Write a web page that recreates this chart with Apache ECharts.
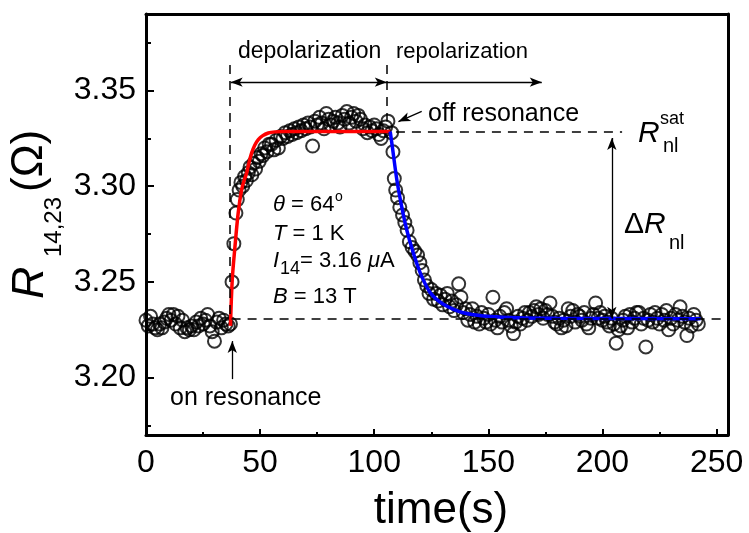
<!DOCTYPE html>
<html><head><meta charset="utf-8">
<script src="https://cdn.jsdelivr.net/npm/echarts@6/dist/echarts.min.js"></script>
<style>html,body{margin:0;padding:0;background:#fff}#c{width:749px;height:533px}</style>
</head><body><div id="c"></div><script>
// ---- data ----
const tBase = [0,1,2,3,4,5,6,7,8,9,10,11,12,13,14,15,16,17,18,19,20,21,22,23,24,25,26,27,28,29,30,31,32,33,34,35,36];
const rBase = [3.230,3.227,3.232,3.228,3.226,3.225,3.228,3.226,3.229,3.231,3.233,3.230,3.233,3.228,3.232,3.226,3.230,3.224,3.226,3.225,3.227,3.225,3.229,3.227,3.231,3.228,3.230,3.233,3.227,3.224,3.219,3.229,3.231,3.226,3.230,3.228,3.227];
const tRise = [37,37.7,38.5,39.4,40,40.8,41.6,42.4,43.2,44,44.8,45.6,46.4,47.2,48,48.8,49.6,50.4,51.2,52,53,54];
const rRise = [3.228,3.250,3.270,3.286,3.293,3.298,3.302,3.300,3.305,3.303,3.307,3.310,3.306,3.312,3.309,3.315,3.313,3.317,3.316,3.320,3.318,3.322];
const tPlat = [55,56,57,58,59,60,61,62,63,64,65,66,67,68,69,70,71,72,73,74,75,76,77,78,79,80,81,82,83,84,85,86,87,88,89,90,91,92,93,94,95,96,97,98,99,100,101,102,103,104,105,106];
const rPlat = [3.322,3.319,3.324,3.320,3.326,3.325,3.328,3.326,3.329,3.327,3.330,3.328,3.331,3.329,3.332,3.330,3.333,3.331,3.321,3.334,3.332,3.336,3.333,3.330,3.338,3.335,3.332,3.334,3.336,3.333,3.331,3.337,3.335,3.339,3.333,3.336,3.338,3.334,3.337,3.335,3.330,3.332,3.328,3.331,3.329,3.332,3.330,3.327,3.325,3.329,3.331,3.334];
const tFall = [107.6,108.2,108.8,109.4,110.2,111.2,112.4,113.4,114.4,115.4,116.6,117.8,119,120,121,122,123,124,125,126,127,128,129,130,131,132,133,134,135,136,137,138,139];
const rFall = [3.328,3.318,3.304,3.298,3.294,3.289,3.285,3.281,3.277,3.271,3.268,3.266,3.264,3.260,3.256,3.251,3.248,3.244,3.246,3.241,3.244,3.240,3.243,3.238,3.241,3.244,3.237,3.240,3.235,3.238,3.249,3.242,3.234];
const tTail = [140,141,142,143,144,145,146,147,148,149,150,151,152,153,154,155,156,157,158,159,160,161,162,163,164,165,166,167,168,169,170,171,172,173,174,175,176,177,178,179,180,181,182,183,184,185,186,187,188,189,190,191,192,193,194,195,196,197,198,199,200,201,202,203,204,205,206,207,208,209,210,211,212,213,214,215,216,217,218,219,220,221,222,223,224,225,226,227,228,229,230,231,232,233,234,235,236,237,238,239,240,241,242];
const rTail = [3.236,3.230,3.233,3.236,3.229,3.232,3.228,3.234,3.231,3.229,3.233,3.228,3.242,3.230,3.226,3.232,3.229,3.234,3.236,3.230,3.227,3.223,3.229,3.232,3.228,3.231,3.234,3.230,3.234,3.232,3.235,3.237,3.233,3.236,3.231,3.235,3.233,3.239,3.232,3.229,3.228,3.231,3.226,3.230,3.227,3.236,3.232,3.235,3.229,3.233,3.232,3.230,3.234,3.228,3.226,3.231,3.233,3.239,3.231,3.234,3.230,3.232,3.229,3.227,3.231,3.228,3.218,3.225,3.227,3.230,3.232,3.226,3.233,3.229,3.231,3.234,3.234,3.228,3.231,3.216,3.230,3.233,3.229,3.234,3.231,3.228,3.233,3.230,3.235,3.225,3.231,3.228,3.233,3.230,3.237,3.232,3.229,3.222,3.231,3.227,3.233,3.230,3.228];
// fit curves
const redT = [37,37.8,39,40.4,41.9,43,44.1,45.2,46.3,47.7,49.2,51,53.6,56.5,60,70,107];
const redR = [3.227,3.2513,3.2687,3.2861,3.2982,3.3030,3.3069,3.3127,3.3174,3.3215,3.3243,3.3263,3.3278,3.3284,3.3286,3.3286,3.3286];
const blueT = [107,108,109.9,112,114.2,117.1,120.1,122.3,124.5,127.2,130.3,134.5,139,144.5,150.7,162.4,180,243];
const blueR = [3.3286,3.3200,3.3034,3.2895,3.2774,3.2652,3.2548,3.2490,3.2444,3.2410,3.2383,3.2358,3.2339,3.2327,3.2319,3.2313,3.2310,3.2308];
// ticks
const xMajor = [0,50,100,150,200,250];
const xMinor = [25,75,125,175,225];
const xTop = [25,50,75,100,125,150,175,200,225,250];
const yMajor = [3.20,3.25,3.30,3.35];
const yMinor = [3.175,3.225,3.275,3.325,3.375];
// annotation guide lines (data coords)
const dashedSegs = [
  [[36.7,3.3634],[36.7,3.2308]],
  [[105.5,3.3634],[105.5,3.334]],
  [[37.5,3.2308],[253.5,3.2308]],
  [[109.5,3.3286],[208.6,3.3286]]
];
const arrowSegs = [ // [from, to, arrowAtFrom, arrowAtTo]
  [[37.1,3.3544],[105.5,3.3544],true,true],
  [[105.5,3.3544],[173.4,3.3544],false,true],
  [[204.1,3.2308],[204.1,3.3252],true,true],
  [[37.8,3.1992],[37.8,3.2191],false,true],
  [[120.8,3.3391],[110.6,3.3338],false,true]
];

const timeS = [].concat(tBase,tRise,tPlat,tFall,tTail);
const resOhm = [].concat(rBase,rRise,rPlat,rFall,rTail);

const FONT = '"Liberation Sans", Arial, sans-serif';
const chart = echarts.init(document.getElementById('c'));

function txt(x, y, text, size, opt) {
  opt = opt || {};
  const st = {
    text: text, fontSize: size, fontFamily: FONT, fill: '#000',
    fontStyle: opt.italic ? 'italic' : 'normal',
    align: opt.align || 'left', textAlign: opt.align || 'left',
    verticalAlign: 'middle', textVerticalAlign: 'middle'
  };
  if (opt.rich) st.rich = opt.rich;
  return { type: 'text', x: x, y: y, rotation: opt.rot || 0, silent: true, style: st };
}
const it22 = { i: { fontStyle: 'italic', fontSize: 22, fontFamily: FONT, fill: '#000' } };

const blackAxis = { color: '#000', width: 3 };
const tickStyle = { color: '#000', width: 2 };

const option = {
  animation: false,
  backgroundColor: '#fff',
  grid: { left: 146, right: 21, top: 14, bottom: 98, containLabel: false },
  xAxis: [
    { type: 'value', position: 'bottom', min: 0, max: 255,
      axisLine: { show: true, onZero: false, lineStyle: blackAxis },
      axisTick: { show: true, inside: true, length: 6, lineStyle: tickStyle, customValues: xMajor },
      axisLabel: { show: true, customValues: xMajor, fontSize: 32, color: '#000', fontFamily: FONT, margin: 12 },
      splitLine: { show: false } },
    { type: 'value', position: 'bottom', min: 0, max: 255,
      axisLine: { show: false },
      axisTick: { show: true, inside: true, length: 3, lineStyle: tickStyle, customValues: xMinor },
      axisLabel: { show: false }, splitLine: { show: false } },
    { type: 'value', position: 'top', min: 0, max: 255,
      axisLine: { show: true, onZero: false, lineStyle: blackAxis },
      axisTick: { show: true, inside: true, length: 2, lineStyle: { color: '#000', width: 1 }, customValues: xTop },
      axisLabel: { show: false }, splitLine: { show: false } }
  ],
  yAxis: [
    { type: 'value', position: 'left', min: 3.17, max: 3.39,
      axisLine: { show: true, onZero: false, lineStyle: blackAxis },
      axisTick: { show: true, inside: true, length: 8, lineStyle: tickStyle, customValues: yMajor },
      axisLabel: { show: true, customValues: yMajor, fontSize: 32, color: '#000', fontFamily: FONT, margin: 10,
                   formatter: v => Number(v).toFixed(2) },
      splitLine: { show: false } },
    { type: 'value', position: 'left', min: 3.17, max: 3.39,
      axisLine: { show: false },
      axisTick: { show: true, inside: true, length: 5, lineStyle: tickStyle, customValues: yMinor },
      axisLabel: { show: false }, splitLine: { show: false } },
    { type: 'value', position: 'right', min: 3.17, max: 3.39,
      axisLine: { show: true, onZero: false, lineStyle: blackAxis },
      axisTick: { show: false }, axisLabel: { show: false }, splitLine: { show: false } }
  ],
  series: [
    { type: 'scatter', xAxisIndex: 0, yAxisIndex: 0, z: 2,
      data: timeS.map((t, i) => [t, resOhm[i]]),
      symbol: 'circle', symbolSize: 13,
      itemStyle: { color: 'rgba(0,0,0,0)', borderColor: '#000', borderWidth: 2 },
      emphasis: { disabled: true },
      markLine: { silent: true, animation: false, symbol: 'none', label: { show: false },
        emphasis: { disabled: true },
        lineStyle: { type: [9, 7], color: '#000', width: 1.5 },
        data: dashedSegs.map(s => [{ coord: s[0], symbol: 'none' }, { coord: s[1], symbol: 'none' }]) } },
    { type: 'line', xAxisIndex: 0, yAxisIndex: 0, z: 4,
      data: redT.map((t, i) => [t, redR[i]]), showSymbol: false, symbol: 'none', smooth: 0.3,
      lineStyle: { color: '#ff0000', width: 3.5 }, emphasis: { disabled: true } },
    { type: 'line', xAxisIndex: 0, yAxisIndex: 0, z: 4,
      data: blueT.map((t, i) => [t, blueR[i]]), showSymbol: false, symbol: 'none', smooth: 0.3,
      lineStyle: { color: '#0000ff', width: 3.5 }, emphasis: { disabled: true },
      markLine: { silent: true, animation: false, label: { show: false }, emphasis: { disabled: true },
        lineStyle: { type: 'solid', color: '#000', width: 1.3 },
        data: arrowSegs.map(s => [
          { coord: s[0], symbol: s[2] ? 'arrow' : 'none', symbolSize: [7, 12] },
          { coord: s[1], symbol: s[3] ? 'arrow' : 'none', symbolSize: [7, 12] }]) } }
  ],
  graphic: { elements: [
    // y-axis title
    txt(30, 299, 'R', 45, { italic: true, rot: Math.PI / 2 }),
    txt(54, 257, '14,23', 24, { rot: Math.PI / 2 }),
    txt(30, 192, '(Ω)', 44, { rot: Math.PI / 2 }),
    // x-axis title
    txt(441, 511, 'time(s)', 44, { align: 'center' }),
    // labels
    txt(238, 52, 'depolarization', 23),
    txt(396, 52, 'repolarization', 22),
    txt(428, 114, 'off resonance', 25),
    txt(170, 398, 'on resonance', 25),
    txt(273, 205, '{i|θ} = 64', 22, { rich: it22 }),
    txt(335, 197, 'o', 14),
    txt(273, 234, '{i|T} = 1 K', 22, { rich: it22 }),
    txt(273, 261, '{i|I}', 22, { rich: it22 }),
    txt(280, 269, '14', 18),
    txt(300, 261, '= 3.16 {i|μ}A', 22, { rich: it22 }),
    txt(273, 297, '{i|B} = 13 T', 22, { rich: it22 }),
    txt(638, 134, 'R', 30, { italic: true }),
    txt(660, 119, 'sat', 18),
    txt(663, 146, 'nl', 20),
    txt(624, 225, 'Δ', 30),
    txt(644, 225, 'R', 30, { italic: true }),
    txt(669, 243, 'nl', 20)
  ] }
};
chart.setOption(option);
</script></body></html>
